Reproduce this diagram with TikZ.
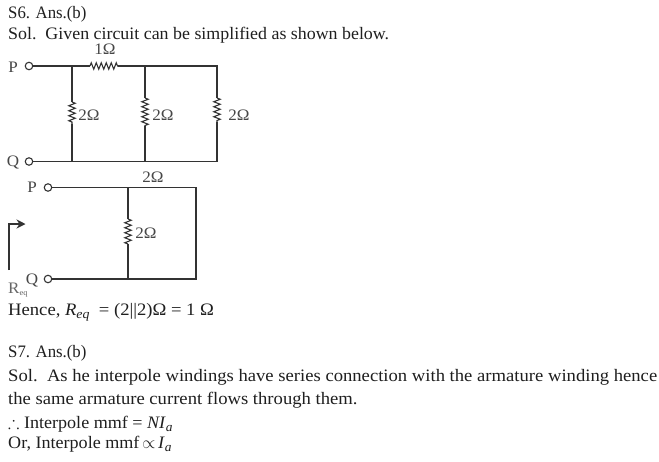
\documentclass[tikz,border=0pt]{standalone}
\usepackage{amssymb}
\usepackage{fontspec}
\setmainfont[FakeStretch=1.065]{Liberation Serif}
\usetikzlibrary{decorations.pathmorphing,arrows.meta}
\newcommand{\subt}[1]{\raisebox{-3.5pt}{\fontsize{13}{14}\selectfont\textit{#1}}}
\tikzset{
  x=1pt,y=-1pt,
  txt/.style={anchor=base west,inner sep=0pt,text=black!88,font=\fontsize{17.5}{19}\selectfont},
  lab/.style={inner sep=0pt,text=black!72,font=\fontsize{16}{18}\selectfont},
  term/.style={circle,draw=black!80,line width=1.1pt,fill=white,minimum size=7.5pt,inner sep=0pt},
  wire/.style={draw=black!80,line width=1.3pt},
  res/.style={draw=black!80,line width=1.1pt,decorate,decoration={zigzag,segment length=5pt,amplitude=3.2pt}},
}
\begin{document}
\begin{tikzpicture}
\useasboundingbox (0,0) rectangle (659,461);
\fill[white] (0,0) rectangle (659,461);
% text
\node[txt] (t1) at (8,18.5) {\scalebox{.9}[1]{S6. Ans.(b)}};
\node[txt] (t2) at (8,39) {\scalebox{.96}[1]{Sol.\ \ Given circuit can be simplified as shown below.}};
\node[txt] (t3) at (8,315) {Hence, \textit{R}\subt{eq}\ \ = (2||2)Ω\ = 1 Ω};
\node[txt] (t4) at (8,357) {\scalebox{.9}[1]{S7. Ans.(b)}};
\node[txt] (t5) at (8,381) {Sol.\ \ As he interpole windings have series connection with the armature winding hence};
\node[txt] (t6) at (8,404) {the same armature current flows through them.};
\node[txt] (t7) at (8,428) {\scalebox{.97}[1]{$\therefore$ Interpole mmf = \textit{NI}\subt{a}}};
\node[txt] (t8) at (8,448) {\scalebox{.97}[1]{Or, Interpole mmf\,$\propto$\,\textit{I}\subt{a}}};
% first circuit
\node[term] (P1) at (29,66) {};
\node[term] (Q1) at (29,161.5) {};
\node[lab] (lP1) at (13,67) {P};
\node[lab] (lQ1) at (13,162) {Q};
\coordinate (a1) at (72,66); \coordinate (b1) at (145,66); \coordinate (c1) at (217,66);
\coordinate (a2) at (72,161.5); \coordinate (b2) at (145,161.5); \coordinate (c2) at (217,161.5);
\coordinate (ra) at (90,66); \coordinate (rb) at (118,66);
\coordinate (r1a) at (72,102); \coordinate (r1b) at (72,124);
\coordinate (r2a) at (145,98); \coordinate (r2b) at (145,126);
\coordinate (r3a) at (217,98); \coordinate (r3b) at (217,122);
\path[wire] (P1) -- (a1) -- (ra) (rb) -- (b1) -- (c1) -- (r3a) (r3b) -- (c2) -- (b2) -- (a2) -- (Q1);
\path[wire] (a1) -- (r1a) (r1b) -- (a2) (b1) -- (r2a) (r2b) -- (b2);
\path[res] (ra) -- (rb);
\path[res] (r1a) -- (r1b);
\path[res] (r2a) -- (r2b);
\path[res] (r3a) -- (r3b);
\node[lab] (l1) at (105,49) {1Ω};
\node[lab] (l2) at (89,115) {2Ω};
\node[lab] (l3) at (163,115) {2Ω};
\node[lab] (l4) at (239,115) {2Ω};
% second circuit
\node[term] (P2) at (48,187.5) {};
\node[term] (Q2) at (48,279) {};
\node[lab] (lP2) at (32,187) {P};
\node[lab] (lQ2) at (32,280) {Q};
\coordinate (d1) at (128,187.5); \coordinate (e1) at (196,187.5);
\coordinate (d2) at (128,279); \coordinate (e2) at (196,279);
\coordinate (r4a) at (128,219); \coordinate (r4b) at (128,244);
\path[wire] (P2) -- (d1) -- (e1) -- (e2) -- (d2) -- (Q2);
\path[wire] (d1) -- (r4a) (r4b) -- (d2);
\path[res] (r4a) -- (r4b);
\node[lab] (l5) at (153,177) {2Ω};
\node[lab] (l6) at (146,233) {2Ω};
% Req arrow
\node[lab,anchor=base west,text=black!60] (req) at (8,293.5) {R\raisebox{-2pt}{\fontsize{8}{9}\selectfont eq}};
\coordinate (s) at (9,270);
\coordinate (h) at (25.5,224);
\draw[draw=black!80,line width=1.1pt,-{Stealth[length=9pt,width=9pt]}] (s) |- (h);
\end{tikzpicture}
\end{document}
